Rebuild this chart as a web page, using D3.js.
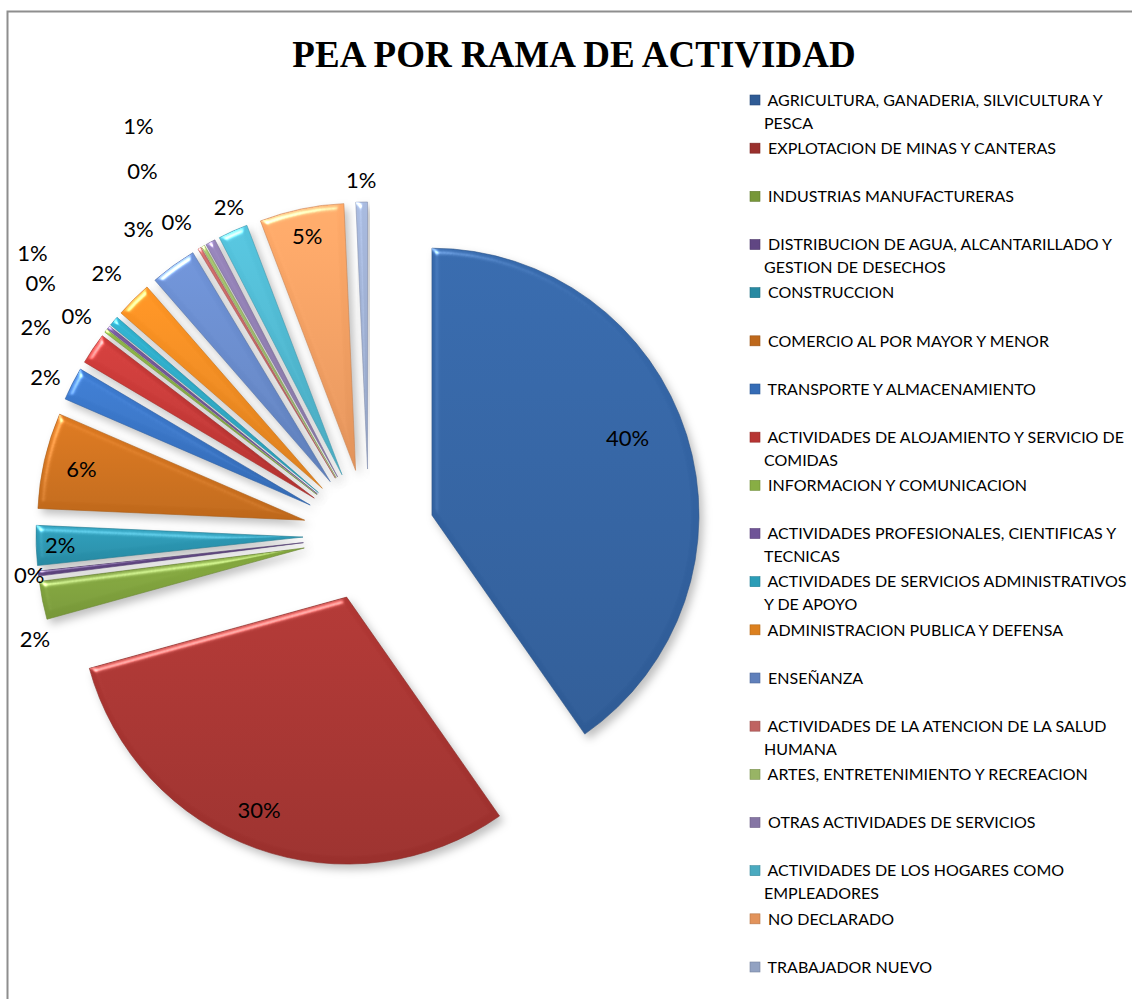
<!DOCTYPE html>
<html lang="es">
<head>
    <meta charset="UTF-8">
    <title>PEA por rama de actividad</title>
    <script src="https://d3js.org/d3.v7.min.js"></script>
    <style>
        body { margin: 0; background: #fff; }
        svg { display: block; }
    </style>
</head>
<body>
    <svg></svg>

    <script>
        const width = 1132, height = 999;

        // data
        const categories = [
            "AGRICULTURA, GANADERIA, SILVICULTURA Y PESCA",
            "EXPLOTACION DE MINAS Y CANTERAS",
            "INDUSTRIAS MANUFACTURERAS",
            "DISTRIBUCION DE AGUA, ALCANTARILLADO Y GESTION DE DESECHOS",
            "CONSTRUCCION",
            "COMERCIO AL POR MAYOR Y MENOR",
            "TRANSPORTE Y ALMACENAMIENTO",
            "ACTIVIDADES DE ALOJAMIENTO Y SERVICIO DE COMIDAS",
            "INFORMACION Y COMUNICACION",
            "ACTIVIDADES PROFESIONALES, CIENTIFICAS Y TECNICAS",
            "ACTIVIDADES DE SERVICIOS ADMINISTRATIVOS Y DE APOYO",
            "ADMINISTRACION PUBLICA Y DEFENSA",
            "ENSEÑANZA",
            "ACTIVIDADES DE LA ATENCION DE LA SALUD HUMANA",
            "ARTES, ENTRETENIMIENTO Y RECREACION",
            "OTRAS ACTIVIDADES DE SERVICIOS",
            "ACTIVIDADES DE LOS HOGARES COMO EMPLEADORES",
            "NO DECLARADO",
            "TRABAJADOR NUEVO"
        ];
        const values = [40.3, 30.4, 2.3, 0.3, 2.4, 5.8, 2.0, 1.9, 0.2, 0.2,
                        0.6, 2.2, 2.8, 0.2, 0.2, 0.6, 1.8, 5.1, 0.7];

        const colors = ["#3465a6", "#ab3532", "#84a83f", "#6b4e92", "#2b98b4", "#d4741e",
                        "#3b78cb", "#cc3b39", "#97c24c", "#7c5ea8", "#30afcc", "#f58f22",
                        "#6b8ed0", "#d56e6c", "#a9c870", "#9482b6", "#52bdd6", "#fba465",
                        "#a3b4d8"];

        // label placement (distance from pie centre, angle nudge in degrees)
        const labelR = [276, 296, 350, 342, 309, 295, 360, 393, 365, 414,
                        439, 371, 383, 367, 429, 469, 357, 305, 355];
        const labelShift = [-3, 2, -6, 0, 0, 0, -1, -2, -1, -1,
                            0, 0, -1, -1, -2, -1, 1, 0, 0];

        const cx = 369, cy = 535, radius = 267, explode = 66;

        const svg = d3.select("svg")
            .attr("width", width)
            .attr("height", height);

        const defs = svg.append("defs");

        // bevel + shadow, something like the office 3d look
        const f = defs.append("filter").attr("id", "bevel")
            .attr("color-interpolation-filters", "sRGB")
            .attr("x", "-20%").attr("y", "-20%").attr("width", "140%").attr("height", "140%");
        f.append("feGaussianBlur").attr("in", "SourceAlpha").attr("stdDeviation", 3).attr("result", "blur");
        const spec = f.append("feSpecularLighting").attr("in", "blur")
            .attr("surfaceScale", 5).attr("specularConstant", 1.1).attr("specularExponent", 22)
            .attr("lighting-color", "#fff").attr("result", "spec");
        spec.append("feDistantLight").attr("azimuth", 235).attr("elevation", 25);
        f.append("feComposite").attr("in", "spec").attr("in2", "SourceAlpha").attr("operator", "in").attr("result", "specIn");
        f.append("feComposite").attr("in", "SourceGraphic").attr("in2", "specIn").attr("operator", "arithmetic")
            .attr("k1", 0).attr("k2", 1).attr("k3", 0.6).attr("k4", 0).attr("result", "lit");
        f.append("feGaussianBlur").attr("in", "SourceAlpha").attr("stdDeviation", 4).attr("result", "sblur");
        f.append("feOffset").attr("in", "sblur").attr("dx", 4).attr("dy", 5).attr("result", "soff");
        f.append("feFlood").attr("flood-color", "#000").attr("flood-opacity", 0.25);
        f.append("feComposite").attr("in2", "soff").attr("operator", "in").attr("result", "shadow");
        const m = f.append("feMerge");
        m.append("feMergeNode").attr("in", "shadow");
        m.append("feMergeNode").attr("in", "lit");

        colors.forEach((c, i) => {
            const g = defs.append("linearGradient").attr("id", "grad" + i)
                .attr("x1", 0).attr("y1", 0).attr("x2", 0).attr("y2", 1);
            g.append("stop").attr("offset", "0%").attr("stop-color", d3.color(c).brighter(0.1));
            g.append("stop").attr("offset", "100%").attr("stop-color", d3.color(c).darker(0.3));
        });

        // chart frame
        svg.append("rect")
            .attr("x", 7.5).attr("y", 11.5)
            .attr("width", 1200).attr("height", 1100)
            .attr("fill", "none")
            .attr("stroke", "#8e8e8e")
            .attr("stroke-width", 2);

        svg.append("text")
            .attr("x", 574).attr("y", 67)
            .attr("text-anchor", "middle")
            .style("font-family", "'Liberation Serif', 'Times New Roman', serif")
            .style("font-weight", "bold")
            .style("font-size", "37px")
            .text("PEA POR RAMA DE ACTIVIDAD");

        const data = categories.map((c, i) => ({ name: c, value: values[i], i: i }));
        const total = d3.sum(values);

        const pie = d3.pie().sort(null).value(d => d.value);
        const arc = d3.arc().innerRadius(0).outerRadius(radius);
        const arcs = pie(data);

        const pieG = svg.append("g").attr("transform", `translate(${cx},${cy})`);

        pieG.selectAll("path")
            .data(arcs)
            .join("path")
            .attr("d", arc)
            .attr("transform", d => {
                const a = (d.startAngle + d.endAngle) / 2;
                return `translate(${explode * Math.sin(a)},${-explode * Math.cos(a)})`;
            })
            .attr("fill", d => `url(#grad${d.data.i})`)
            .attr("stroke", d => d3.color(colors[d.data.i]).darker(0.6))
            .attr("stroke-width", 0.6)
            .attr("filter", "url(#bevel)");

        pieG.selectAll("text.pct")
            .data(arcs)
            .join("text")
            .attr("class", "pct")
            .attr("x", d => {
                const a = (d.startAngle + d.endAngle) / 2 + labelShift[d.data.i] * Math.PI / 180;
                return labelR[d.data.i] * Math.sin(a);
            })
            .attr("y", d => {
                const a = (d.startAngle + d.endAngle) / 2 + labelShift[d.data.i] * Math.PI / 180;
                return -labelR[d.data.i] * Math.cos(a);
            })
            .attr("dy", "0.36em")
            .attr("text-anchor", "middle")
            .style("font-family", "Lato, 'Open Sans', sans-serif")
            .style("font-size", "22px")
            .attr("fill", "#000")
            .text(d => Math.round(d.value / total * 100) + "%");

        // legend
        const legendY = d3.scalePoint().domain(d3.range(categories.length)).range([100, 967]);
        const legend = svg.append("g");
        const maxW = 367;

        const item = legend.selectAll("g")
            .data(data)
            .join("g")
            .attr("transform", d => `translate(750,${legendY(d.i)})`);

        item.append("rect")
            .attr("x", 0).attr("y", -5)
            .attr("width", 10).attr("height", 10)
            .attr("fill", d => d3.color(colors[d.i]).darker(0.3))
            .attr("stroke", d => d3.color(colors[d.i]).darker(0.9))
            .attr("stroke-width", 0.6);

        item.append("text")
            .attr("x", 14)
            .style("font-family", "Lato, 'Open Sans', sans-serif")
            .style("font-size", "16px")
            .attr("fill", "#000")
            .each(function (d) {
                const t = d3.select(this);
                const words = (" " + d.name).split(" ");
                let line = [];
                let tspan = t.append("tspan").attr("x", 14).attr("dy", "0.36em").attr("xml:space", "preserve");
                words.forEach(w => {
                    line.push(w);
                    tspan.text(line.join(" "));
                    if (tspan.node().getComputedTextLength() > maxW && line.length > 1) {
                        line.pop();
                        tspan.text(line.join(" "));
                        line = [w];
                        tspan = t.append("tspan").attr("x", 14).attr("dy", 23).text(w);
                    }
                });
            });
    </script>
</body>
</html>
